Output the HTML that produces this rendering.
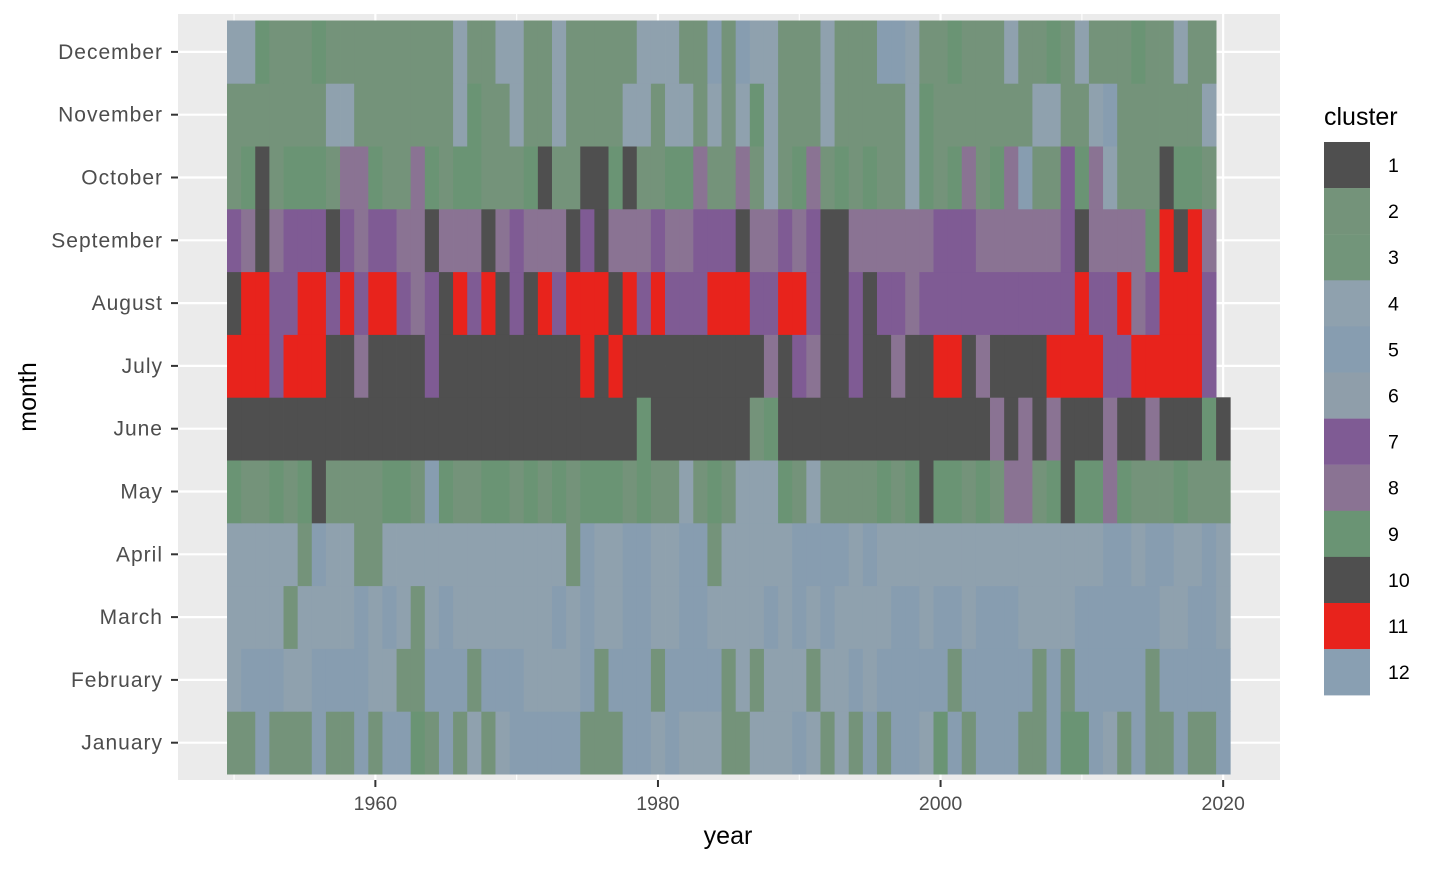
<!DOCTYPE html>
<html><head><meta charset="utf-8"><style>
body{margin:0;background:#fff;font-family:"Liberation Sans",Arial,sans-serif;}
svg text{font-family:"Liberation Sans",Arial,sans-serif;}
</style></head><body>
<svg id="chart" width="1440" height="864" xmlns="http://www.w3.org/2000/svg">
<rect x="178" y="14" width="1102" height="766" fill="#ebebeb"/>
<g id="grid"></g>
<g id="tiles"></g>
<g id="axes"></g>
<g id="legend"></g>
<text x="728" y="844" font-size="25" text-anchor="middle" fill="#000">year</text>
<text x="36" y="397" font-size="25" text-anchor="middle" fill="#000" transform="rotate(-90 36 397)">month</text>
</svg>
<script>
const months=["January","February","March","April","May","June","July","August","September","October","November","December"];
const xTicks=[1960,1980,2000,2020];
const clusters=[1,2,3,4,5,6,7,8,9,10,11,12];
const startYear=1950;
const jan=[2,2,5,2,2,2,5,2,2,5, 2,5,5,9,2,5,2,4,2,4, 5,5,5,5,5,2,2,2,5,5, 4,5,4,4,4, 2,2,4,4,4,5,4,2,4,2, 5,2,5,5,4,9,5,2,5,5, 5,2,2,5,9,9,5,4,2,5, 2,2,5,2,2, 5];
const feb=[4,5,5,5,4,4,5,5,5,5, 4,4,2,2,5,5,5,2,5,5, 5,4,4,4,4,5,2,5,5,5, 2,5,5,5,5, 2,4,2,4,4,4,2,4,4,5, 4,5,5,5,5,5,2,5,5,5, 5,5,2,5,2,5,5,5,5,5, 2,5,5,5,5, 5];
const mar=[4,4,4,4,2,4,4,4,4,5, 4,5,4,2,4,5,4,4,4,4, 4,4,4,5,4,5,4,4,5,5, 4,4,5,5,4, 4,4,4,5,4,5,4,5,4,4, 4,4,5,5,4,5,5,4,5,5, 5,4,4,4,4,5,5,5,5,5, 5,4,4,5,5, 4];
const apr=[4,4,4,4,4,2,5,4,4,2, 2,4,4,4,4,4,4,4,4,4, 4,4,4,4,2,5,4,4,5,5, 4,4,5,5,2, 4,4,4,4,4,5,5,5,5,4, 5,4,4,4,4,4,4,4,4,4, 4,4,4,4,4,4,4,5,5,4, 5,5,4,4,5, 4];
const may=[9,2,2,9,2,9,1,2,2,2, 2,9,9,2,5,9,2,2,9,9, 2,9,2,9,2,9,9,9,2,9, 2,2,4,2,9, 2,4,4,4,9,2,4,2,2,2, 2,9,2,9,1,9,9,2,9,2, 8,8,2,9,1,9,9,8,9,2, 2,2,9,2,2, 2];
const jun=[1,1,1,1,1,1,1,1,1,1, 1,1,1,1,1,1,1,1,1,1, 1,1,1,1,1,1,1,1,1,9, 1,1,1,1,1, 1,1,2,9,1,1,1,1,1,1, 1,1,1,1,1,1,1,1,1,8, 1,8,1,8,1,1,1,8,1,1, 8,1,1,1,9, 1];
const jul=[11,11,11,7,11,11,11,1,1,8, 1,1,1,1,7,1,1,1,1,1, 1,1,1,1,1,11,1,11,1,1, 1,1,1,1,1, 1,1,1,8,1,7,8,1,1,7, 1,1,8,1,1,11,11,1,8,1, 1,1,1,11,11,11,11,7,7,11, 11,11,11,11,7];
const aug=[1,11,11,7,7,11,11,7,11,7, 11,11,7,8,7,1,11,7,11,1, 7,1,11,7,11,11,11,1,11,7, 11,7,7,7,11, 11,11,7,7,11,11,7,1,1,7, 1,7,7,8,7,7,7,7,7,7, 7,7,7,7,7,11,7,7,11,8, 7,11,11,11,7];
const sep=[7,8,1,8,7,7,7,1,7,8, 7,7,8,8,1,8,8,8,1,8, 7,8,8,8,1,7,1,8,8,8, 7,8,8,7,7, 7,1,8,8,7,8,7,1,1,8, 8,8,8,8,8,7,7,7,8,8, 8,8,8,8,7,1,8,8,8,8, 9,11,1,11,8];
const oct=[2,9,1,2,9,9,9,2,8,8, 9,2,2,8,9,2,9,9,2,2, 2,9,1,2,2,1,1,9,1,2, 2,9,9,8,2, 2,8,2,4,2,9,8,2,9,2, 9,2,2,4,9,2,9,8,2,9, 8,5,2,2,7,9,8,4,2,2, 2,1,9,9,2];
const nov=[2,2,2,2,2,2,2, 4,4, 2,2,2,2,2,2,2, 4,9,2,2,4,2,2,4, 2,2,2,2, 4,4,2,4,4,2,4, 2,4,9,4,2,2,2,4, 2,2,2,2,2, 4,9, 2,2,2,2,2,2,2, 4,4,2,2,4,5, 2,2,2,2,2,2, 4];
const dec=[4,4,9,2,2,2,9, 2,2,2,2,2,2,2,2,2, 4,2,2,4,4,2,2,4, 2,2,2,2,2, 4,4,4,2,2,5, 2,5,4,4,2,2,2,4,2,2,2,5,5,4,2,2,9,2,2,2,4,2,2,9,2,4,2,2,2,9,2,2,4,2,2];
const monthData=[jan,feb,mar,apr,may,jun,jul,aug,sep,oct,nov,dec];

const colors={1:"#4f4f4f",2:"#74937a",3:"#72957a",4:"#8fa1ae",5:"#879db0",6:"#8f9eaa",7:"#7f5b94",8:"#8a7393",9:"#6a9474",10:"#4f4f4f",11:"#e8231c",12:"#899fb2"};
const NS="http://www.w3.org/2000/svg";
const cw=14.13, x0=227;
function xScale(yr){return x0+(yr-startYear+0.5)*cw;}
const rowH=62.8, yTop=20.5;
function yScale(mi){return yTop+(11-mi+0.5)*rowH;}
function mk(tag,attrs,parent){const e=document.createElementNS(NS,tag);for(const k in attrs)e.setAttribute(k,attrs[k]);parent.appendChild(e);return e;}

const grid=document.getElementById('grid');
for(let yr=1950;yr<=2020;yr+=10){
  const g=mk('line',{x1:xScale(yr),x2:xScale(yr),y1:14,y2:780,stroke:'#fff','stroke-width':(yr%20===0)?2.2:1.1},grid);
  
  
}
for(let m=0;m<12;m++){
  const g=mk('line',{x1:178,x2:1280,y1:yScale(m),y2:yScale(m),stroke:'#fff','stroke-width':2.2},grid);
  
  
}
const tiles=document.getElementById('tiles');
monthData.forEach((arr,mi)=>{
  arr.forEach((c,i)=>{
    const yr=startYear+i;
    const r=mk('rect',{x:(xScale(yr)-cw/2).toFixed(2),y:(yScale(mi)-rowH/2).toFixed(2),width:(cw+0.4).toFixed(2),height:(rowH+0.4).toFixed(2),fill:colors[c]},tiles);
    
    
  });
});
const axes=document.getElementById('axes');
months.forEach((m,mi)=>{
  const t=mk('line',{x1:171,x2:178,y1:yScale(mi),y2:yScale(mi),stroke:'#333','stroke-width':2},axes);
  
  
  const l=mk('text',{x:163,y:yScale(mi)+7,'font-size':21,'letter-spacing':1,'text-anchor':'end',fill:'#4d4d4d'},axes);
  l.textContent=m;
  
  
});
xTicks.forEach(yr=>{
  const t=mk('line',{x1:xScale(yr),x2:xScale(yr),y1:780,y2:787,stroke:'#333','stroke-width':2},axes);
  
  
  const l=mk('text',{x:xScale(yr),y:810,'font-size':19.5,'text-anchor':'middle',fill:'#4d4d4d'},axes);
  l.textContent=yr;
  
  
});
const legend=document.getElementById('legend');
const lt=mk('text',{x:1324,y:125,'font-size':25,fill:'#000'},legend);
lt.textContent='cluster';


clusters.forEach((c,i)=>{
  const y=142+i*46.1;
  const r=mk('rect',{x:1324,y:y,width:46,height:46.3,fill:colors[c]},legend);
  
  
  const t=mk('text',{x:1388,y:y+30,'font-size':19.5,fill:'#000'},legend);
  t.textContent=c;
  
  
});
</script>
</body></html>
